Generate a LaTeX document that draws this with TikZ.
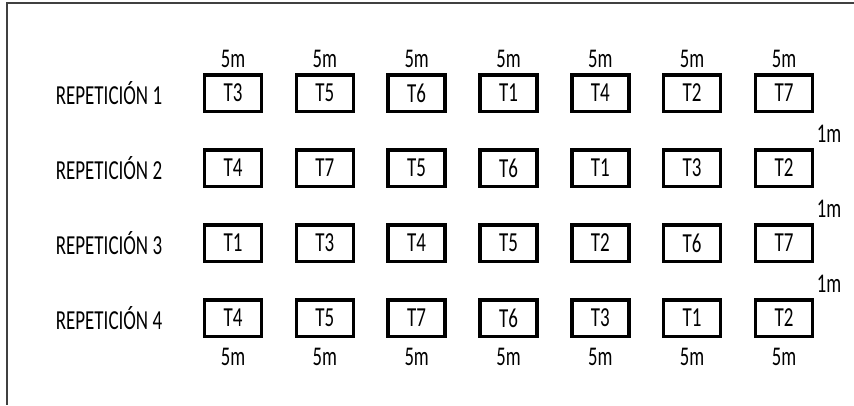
\documentclass[tikz,border=0pt]{standalone}
\usepackage{fontspec}
\newfontfamily\narrowfont[FakeStretch=0.69]{Carlito}
\begin{document}
\begin{tikzpicture}[x=1pt,y=-1pt,
  plotbox/.style={draw=black,line width=3.5pt,minimum width=57pt,minimum height=36.5pt,inner sep=0pt,font=\narrowfont\fontsize{27.5}{29}\selectfont},
  dimlabel/.style={inner sep=0pt,font=\narrowfont\fontsize{27}{29}\selectfont},
  rowlabel/.style={inner sep=0pt,font=\narrowfont\fontsize{27.5}{29}\selectfont},
  frameline/.style={draw=black!75,line width=2pt}]
\useasboundingbox (0,0) rectangle (854,405);
\coordinate (ftl) at (7,3);
\coordinate (ftr) at (854,3);
\coordinate (fbl) at (7,405);
\draw[frameline] (ftr) -- (ftl) -- (fbl);
% rows
\foreach \r/\lst in {1/{T3,T5,T6,T1,T4,T2,T7},2/{T4,T7,T5,T6,T1,T3,T2},3/{T1,T3,T4,T5,T2,T6,T7},4/{T4,T5,T7,T6,T3,T1,T2}}{
  \pgfmathsetmacro{\yy}{93+75*(\r-1)}
  \node[rowlabel] (lab\r) at (109,\yy) {REPETICIÓN \r};
  \foreach \t [count=\c] in \lst {
    \pgfmathsetmacro{\xx}{233+91.83*(\c-1)}
    \node[plotbox] (b\r-\c) at (\xx,\yy) {\t};
  }
}
\foreach \c in {1,...,7}{
  \pgfmathsetmacro{\xx}{233+91.83*(\c-1)}
  \node[dimlabel] (tl\c) at (\xx,59) {5m};
  \node[dimlabel] (bl\c) at (\xx,357) {5m};
}
\foreach \k in {1,2,3}{
  \pgfmathsetmacro{\yy}{134+75*(\k-1)}
  \node[dimlabel] (gap\k) at (829,\yy) {1m};
}
\end{tikzpicture}
\end{document}
